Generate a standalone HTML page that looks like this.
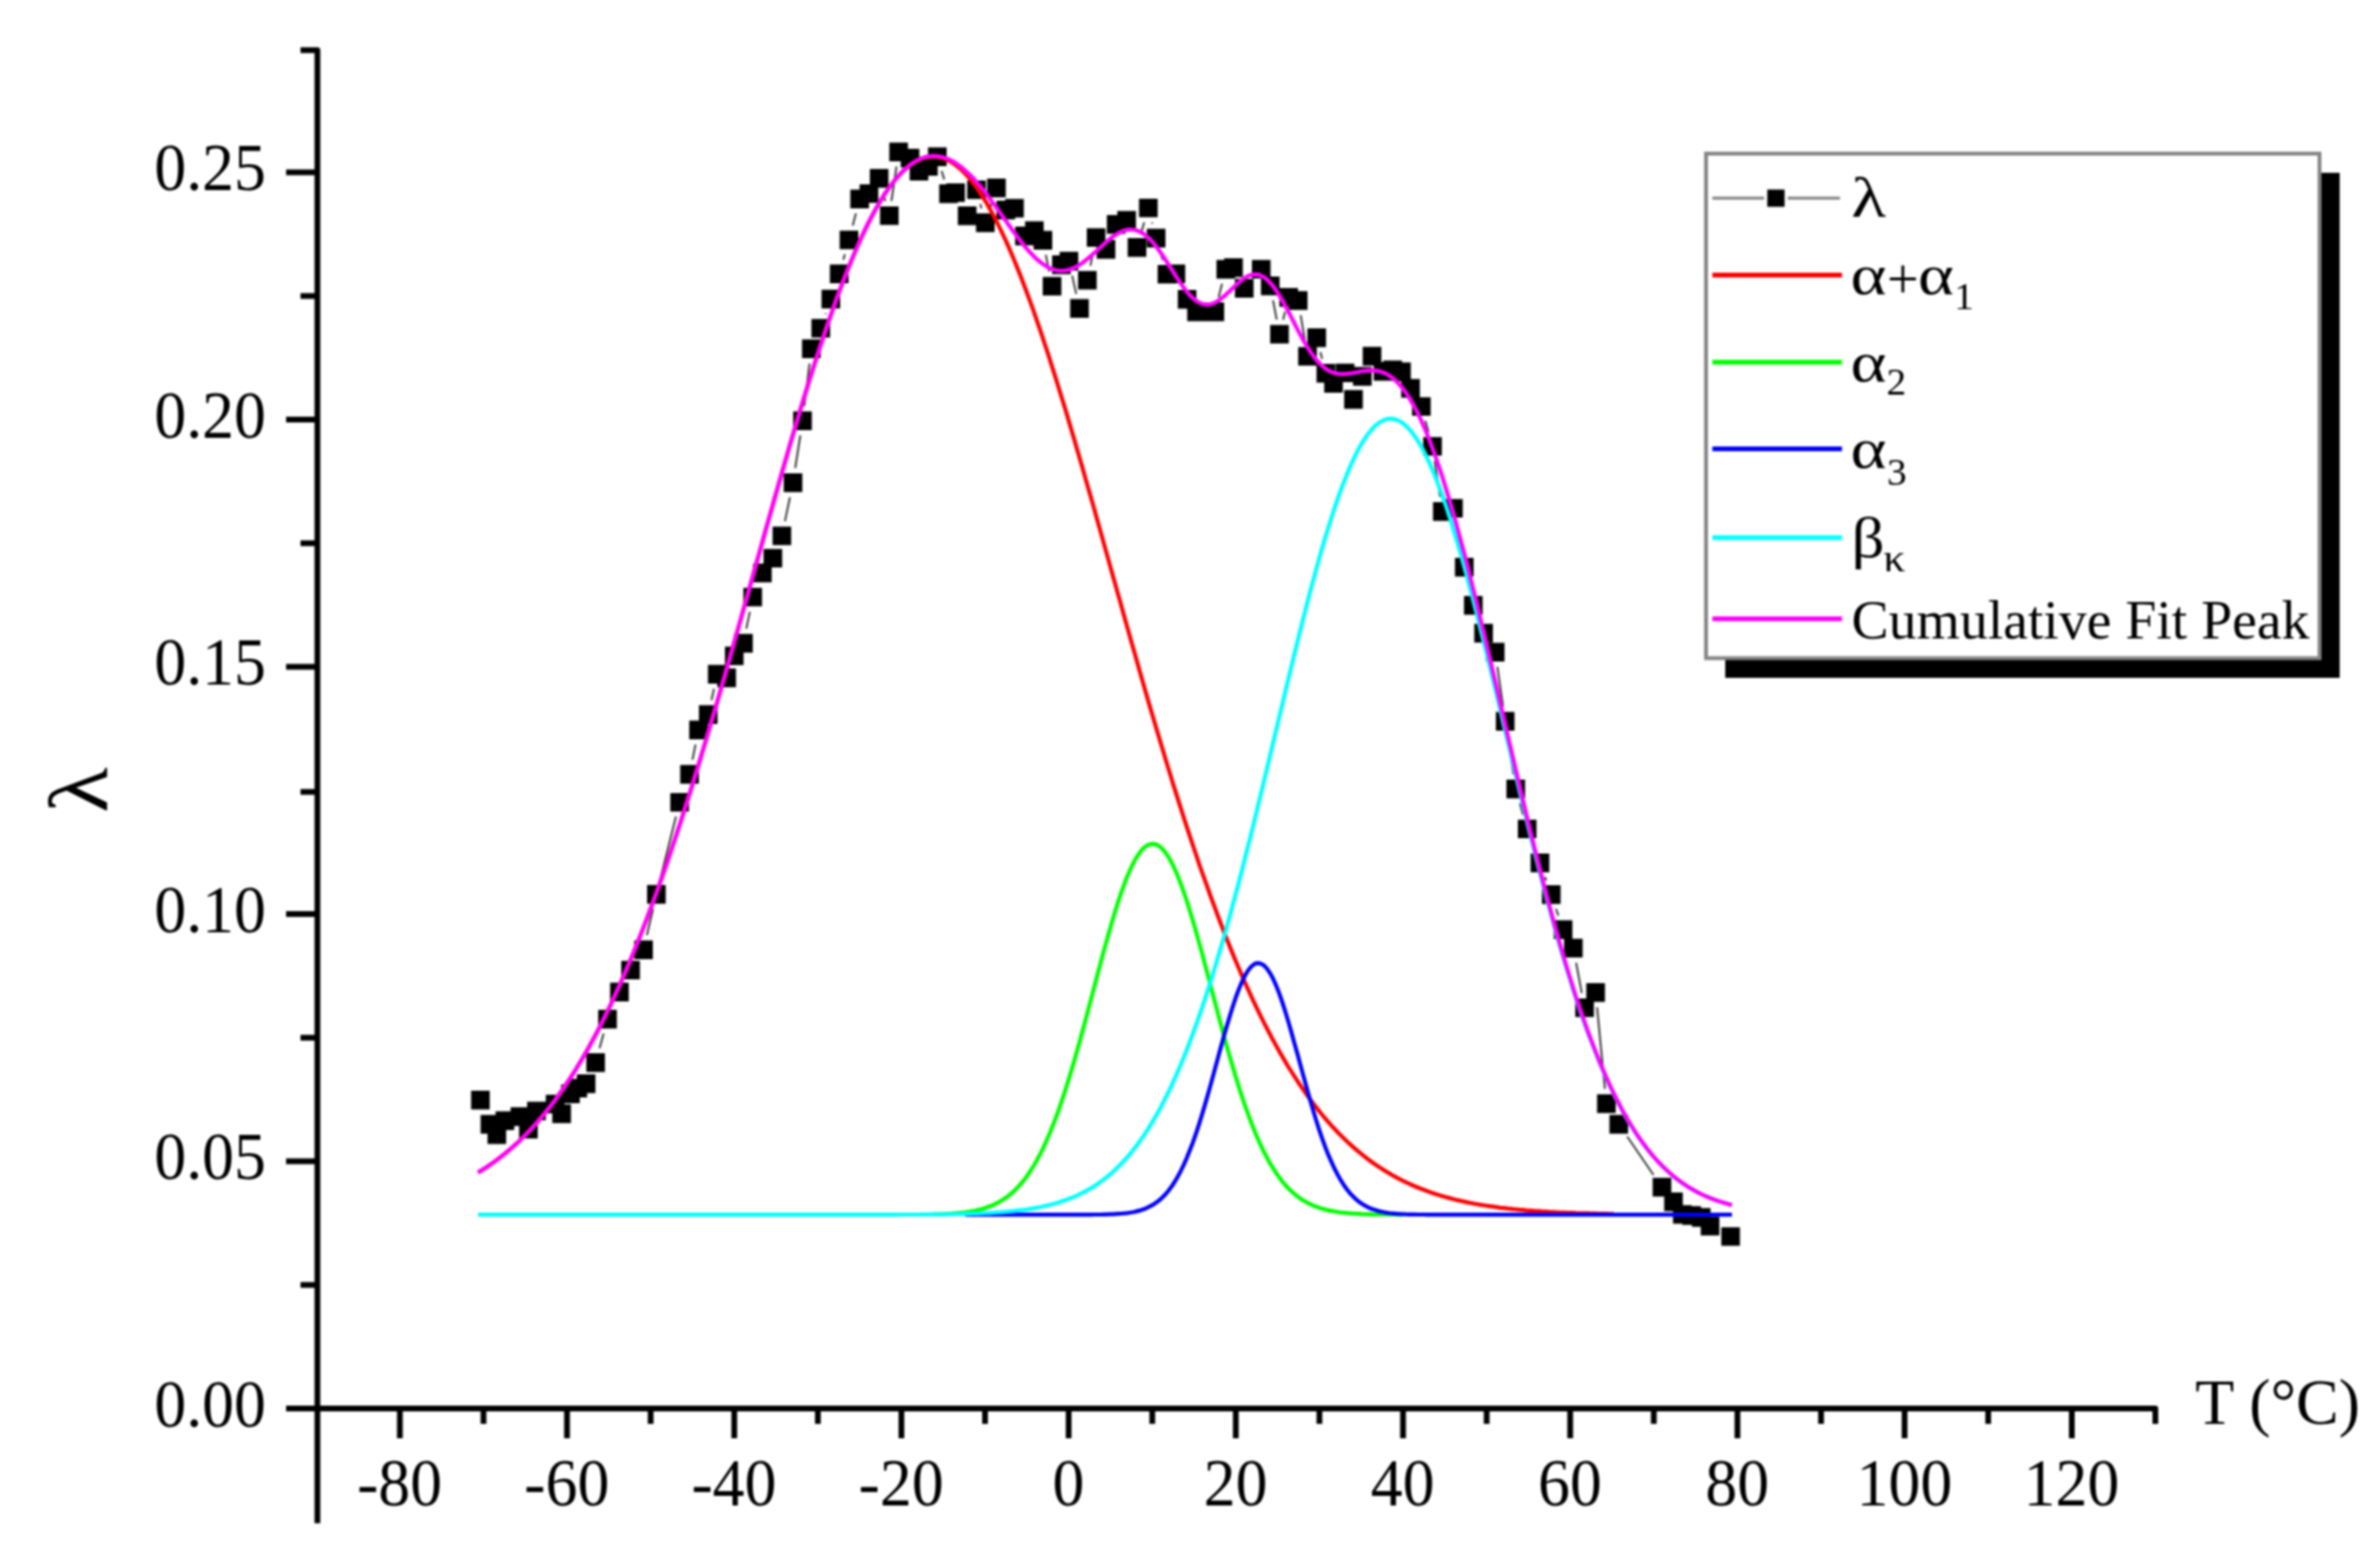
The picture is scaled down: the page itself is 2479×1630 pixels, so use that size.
<!DOCTYPE html>
<html><head><meta charset="utf-8"><title>Cumulative Fit Peak</title>
<style>html,body{margin:0;padding:0;background:#fff;overflow:hidden}svg{display:block;filter:blur(0.8px)}text{font-family:"Liberation Serif",serif;fill:#000}.tk{font-size:66.5px}.lg{font-size:58.5px}.sb{font-size:41px}</style></head><body>
<svg width="2479" height="1630" viewBox="0 0 2479 1630">
<rect width="2479" height="1630" fill="#fff"/>
<g stroke="#000" stroke-width="6" fill="none" stroke-linecap="butt" stroke-linejoin="round">
<path d="M313,52.2 H330.6 V1586.5"/>
<path d="M298,1467 H2245 V1483"/>
<path d="M313,1338.3 H331"/>
<path d="M298,1209.5 H331"/>
<path d="M313,1080.8 H331"/>
<path d="M298,952.0 H331"/>
<path d="M313,824.8 H331"/>
<path d="M298,694.6 H331"/>
<path d="M313,565.8 H331"/>
<path d="M298,437.1 H331"/>
<path d="M313,308.3 H331"/>
<path d="M298,179.6 H331"/>
<path d="M416.5,1467 V1498"/>
<path d="M503.6,1467 V1483"/>
<path d="M590.6,1467 V1498"/>
<path d="M677.7,1467 V1483"/>
<path d="M764.8,1467 V1498"/>
<path d="M851.9,1467 V1483"/>
<path d="M938.9,1467 V1498"/>
<path d="M1026.0,1467 V1483"/>
<path d="M1113.1,1467 V1498"/>
<path d="M1200.2,1467 V1483"/>
<path d="M1287.2,1467 V1498"/>
<path d="M1374.3,1467 V1483"/>
<path d="M1461.4,1467 V1498"/>
<path d="M1548.5,1467 V1483"/>
<path d="M1635.5,1467 V1498"/>
<path d="M1722.6,1467 V1483"/>
<path d="M1809.7,1467 V1498"/>
<path d="M1896.8,1467 V1483"/>
<path d="M1983.8,1467 V1498"/>
<path d="M2070.9,1467 V1483"/>
<path d="M2158.0,1467 V1498"/>
</g>
<g class="tk" text-anchor="end">
<text transform="translate(277,1485.5) scale(1,1.035)">0.00</text>
<text transform="translate(277,1228.0) scale(1,1.035)">0.05</text>
<text transform="translate(277,970.5) scale(1,1.035)">0.10</text>
<text transform="translate(277,713.1) scale(1,1.035)">0.15</text>
<text transform="translate(277,455.6) scale(1,1.035)">0.20</text>
<text transform="translate(277,198.1) scale(1,1.035)">0.25</text>
</g>
<g class="tk" text-anchor="middle">
<text transform="translate(416.2,1568.3) scale(1,1.035)">-80</text>
<text transform="translate(590.4,1568.3) scale(1,1.035)">-60</text>
<text transform="translate(764.5,1568.3) scale(1,1.035)">-40</text>
<text transform="translate(938.6,1568.3) scale(1,1.035)">-20</text>
<text transform="translate(1112.8,1568.3) scale(1,1.035)">0</text>
<text transform="translate(1287.0,1568.3) scale(1,1.035)">20</text>
<text transform="translate(1461.1,1568.3) scale(1,1.035)">40</text>
<text transform="translate(1635.2,1568.3) scale(1,1.035)">60</text>
<text transform="translate(1809.4,1568.3) scale(1,1.035)">80</text>
<text transform="translate(1983.5,1568.3) scale(1,1.035)">100</text>
<text transform="translate(2157.7,1568.3) scale(1,1.035)">120</text>
</g>
<text class="tk" x="2286.5" y="1483.3" style="font-size:66.7px">T (°C)</text>
<text transform="translate(110.5,846.5) rotate(-90) scale(1.12,1)" style="font-size:87px">λ</text>
<path fill="none" stroke="#3a3a3a" stroke-width="2" d="M624.5,1091.8L628.7,1076.4M673.8,974.1L680.2,946.6M687.5,916.5L704.1,850.6M721.3,791.3L724.5,775.4M741.1,729.2L743.7,717.4M777.4,654.8L781.0,637.1M817.6,542.9L822.8,518.0M828.3,487.5L833.6,453.5M837.8,422.8L843.2,378.7M860.0,327.2L860.3,326.2M878.4,270.4L880.0,264.8M888.2,234.9L891.5,222.3M919.8,200.8L922.2,209.6M928.5,209.3L933.8,173.5M980.8,178.0L983.5,186.9M1021.1,212.6L1022.3,217.0M1031.0,217.2L1033.2,210.6M1089.3,265.4L1092.8,282.9M1116.8,287.1L1121.0,306.1M1135.7,276.7L1138.6,262.6M1188.6,242.9L1191.8,231.5M1200.0,231.6L1200.3,233.0M1208.7,262.8L1211.0,270.8M1269.3,309.7L1272.9,295.5M1326.0,312.9L1329.8,332.9M1336.5,333.1L1338.5,324.8M1354.8,328.3L1359.3,355.8M1375.4,366.8L1377.1,373.8M1484.7,438.3L1487.9,450.0M1494.4,480.2L1500.0,517.4M1516.7,544.6L1522.4,575.5M1528.8,605.8L1531.0,615.4M1559.6,694.5L1565.6,736.0M1570.2,766.6L1576.4,806.5M1583.1,836.7L1586.4,848.5M1596.2,877.9L1598.5,884.3M1609.2,913.4L1610.6,917.2M1620.7,946.5L1623.2,953.6M1641.7,1002.7L1647.6,1034.4M1663.5,1049.1L1671.7,1134.1M1694.9,1183.8L1722.3,1223.7"/>
<path fill="#000" d="M490.7,1136.0h19.4v19.4h-19.4zM500.6,1161.3h19.4v19.4h-19.4zM507.8,1172.2h19.4v19.4h-19.4zM516.2,1157.5h19.4v19.4h-19.4zM531.8,1153.3h19.4v19.4h-19.4zM540.7,1166.3h19.4v19.4h-19.4zM549.1,1147.4h19.4v19.4h-19.4zM568.5,1140.2h19.4v19.4h-19.4zM575.3,1150.3h19.4v19.4h-19.4zM584.5,1129.6h19.4v19.4h-19.4zM592.1,1123.7h19.4v19.4h-19.4zM600.8,1119.1h19.4v19.4h-19.4zM610.7,1097.0h19.4v19.4h-19.4zM623.1,1051.8h19.4v19.4h-19.4zM635.5,1023.6h19.4v19.4h-19.4zM647.1,1000.7h19.4v19.4h-19.4zM660.6,979.5h19.4v19.4h-19.4zM674.0,921.8h19.4v19.4h-19.4zM698.2,825.9h19.4v19.4h-19.4zM708.5,796.8h19.4v19.4h-19.4zM717.9,750.5h19.4v19.4h-19.4zM728.0,734.6h19.4v19.4h-19.4zM737.4,692.6h19.4v19.4h-19.4zM747.2,696.3h19.4v19.4h-19.4zM755.1,673.4h19.4v19.4h-19.4zM764.7,660.3h19.4v19.4h-19.4zM774.3,612.2h19.4v19.4h-19.4zM784.4,587.0h19.4v19.4h-19.4zM795.3,571.7h19.4v19.4h-19.4zM804.7,548.4h19.4v19.4h-19.4zM816.3,493.1h19.4v19.4h-19.4zM826.2,428.5h19.4v19.4h-19.4zM835.4,353.6h19.4v19.4h-19.4zM845.2,332.2h19.4v19.4h-19.4zM855.7,301.8h19.4v19.4h-19.4zM864.4,275.6h19.4v19.4h-19.4zM874.6,240.2h19.4v19.4h-19.4zM885.7,197.6h19.4v19.4h-19.4zM895.4,191.9h19.4v19.4h-19.4zM906.0,176.1h19.4v19.4h-19.4zM916.6,214.9h19.4v19.4h-19.4zM926.3,148.5h19.4v19.4h-19.4zM938.2,155.0h19.4v19.4h-19.4zM947.5,168.6h19.4v19.4h-19.4zM957.3,163.5h19.4v19.4h-19.4zM966.6,153.5h19.4v19.4h-19.4zM978.3,192.0h19.4v19.4h-19.4zM985.6,190.9h19.4v19.4h-19.4zM997.7,215.1h19.4v19.4h-19.4zM1007.4,187.9h19.4v19.4h-19.4zM1016.6,222.3h19.4v19.4h-19.4zM1028.2,186.1h19.4v19.4h-19.4zM1037.9,209.1h19.4v19.4h-19.4zM1047.0,207.2h19.4v19.4h-19.4zM1057.4,236.1h19.4v19.4h-19.4zM1067.7,230.6h19.4v19.4h-19.4zM1076.6,240.5h19.4v19.4h-19.4zM1086.1,288.4h19.4v19.4h-19.4zM1095.9,266.1h19.4v19.4h-19.4zM1103.7,262.3h19.4v19.4h-19.4zM1114.7,311.5h19.4v19.4h-19.4zM1122.9,282.2h19.4v19.4h-19.4zM1132.0,237.7h19.4v19.4h-19.4zM1142.3,250.0h19.4v19.4h-19.4zM1152.9,224.1h19.4v19.4h-19.4zM1163.8,219.8h19.4v19.4h-19.4zM1174.6,248.1h19.4v19.4h-19.4zM1186.4,206.9h19.4v19.4h-19.4zM1194.5,238.3h19.4v19.4h-19.4zM1205.8,275.9h19.4v19.4h-19.4zM1215.1,275.5h19.4v19.4h-19.4zM1226.8,302.1h19.4v19.4h-19.4zM1236.6,315.0h19.4v19.4h-19.4zM1245.9,315.0h19.4v19.4h-19.4zM1255.7,315.0h19.4v19.4h-19.4zM1267.1,270.8h19.4v19.4h-19.4zM1275.1,269.0h19.4v19.4h-19.4zM1286.3,290.5h19.4v19.4h-19.4zM1304.0,270.7h19.4v19.4h-19.4zM1313.4,288.0h19.4v19.4h-19.4zM1323.0,338.4h19.4v19.4h-19.4zM1332.6,300.1h19.4v19.4h-19.4zM1342.5,303.3h19.4v19.4h-19.4zM1352.2,361.4h19.4v19.4h-19.4zM1361.8,342.1h19.4v19.4h-19.4zM1371.3,379.1h19.4v19.4h-19.4zM1379.3,389.6h19.4v19.4h-19.4zM1391.3,378.7h19.4v19.4h-19.4zM1400.1,406.3h19.4v19.4h-19.4zM1409.3,382.3h19.4v19.4h-19.4zM1419.4,361.3h19.4v19.4h-19.4zM1430.9,377.1h19.4v19.4h-19.4zM1440.9,375.4h19.4v19.4h-19.4zM1450.1,377.6h19.4v19.4h-19.4zM1459.5,394.8h19.4v19.4h-19.4zM1470.8,413.7h19.4v19.4h-19.4zM1482.4,455.2h19.4v19.4h-19.4zM1492.6,523.0h19.4v19.4h-19.4zM1504.2,519.7h19.4v19.4h-19.4zM1515.5,581.0h19.4v19.4h-19.4zM1524.9,620.8h19.4v19.4h-19.4zM1535.6,649.8h19.4v19.4h-19.4zM1547.7,669.5h19.4v19.4h-19.4zM1558.1,741.6h19.4v19.4h-19.4zM1569.1,812.1h19.4v19.4h-19.4zM1581.0,853.7h19.4v19.4h-19.4zM1594.3,889.1h19.4v19.4h-19.4zM1606.1,922.1h19.4v19.4h-19.4zM1618.4,958.6h19.4v19.4h-19.4zM1629.1,977.8h19.4v19.4h-19.4zM1640.8,1039.9h19.4v19.4h-19.4zM1652.3,1024.0h19.4v19.4h-19.4zM1663.5,1139.8h19.4v19.4h-19.4zM1676.4,1161.3h19.4v19.4h-19.4zM1721.4,1226.8h19.4v19.4h-19.4zM1733.4,1242.1h19.4v19.4h-19.4zM1742.6,1255.2h19.4v19.4h-19.4zM1752.3,1256.3h19.4v19.4h-19.4zM1762.3,1258.3h19.4v19.4h-19.4zM1771.5,1267.3h19.4v19.4h-19.4zM1792.9,1278.2h19.4v19.4h-19.4z"/>
<g fill="none" stroke-width="4.2" stroke-linejoin="round" stroke-linecap="butt">
<path stroke="#f00" d="M498.0,1221.1 L502.0,1218.7 L505.9,1216.2 L509.9,1213.5 L513.8,1210.8 L517.8,1207.9 L521.7,1204.9 L525.7,1201.7 L529.7,1198.4 L533.6,1195.0 L537.6,1191.4 L541.5,1187.7 L545.5,1183.9 L549.4,1179.9 L553.4,1175.7 L557.3,1171.4 L561.3,1166.9 L565.3,1162.2 L569.2,1157.4 L573.2,1152.4 L577.1,1147.2 L581.1,1141.8 L585.0,1136.2 L589.0,1130.5 L593.0,1124.5 L596.9,1118.4 L600.9,1112.0 L604.8,1105.5 L608.8,1098.7 L612.7,1091.7 L616.7,1084.6 L620.7,1077.2 L624.6,1069.6 L628.6,1061.8 L632.5,1053.7 L636.5,1045.5 L640.4,1037.0 L644.4,1028.3 L648.3,1019.4 L652.3,1010.3 L656.3,1000.9 L660.2,991.3 L664.2,981.5 L668.1,971.5 L672.1,961.3 L676.0,950.8 L680.0,940.2 L684.0,929.3 L687.9,918.2 L691.9,907.0 L695.8,895.5 L699.8,883.8 L703.7,871.9 L707.7,859.9 L711.7,847.6 L715.6,835.2 L719.6,822.6 L723.5,809.9 L727.5,797.0 L731.4,783.9 L735.4,770.7 L739.3,757.4 L743.3,743.9 L747.3,730.3 L751.2,716.6 L755.2,702.9 L759.1,689.0 L763.1,675.0 L767.0,661.0 L771.0,647.0 L775.0,632.9 L778.9,618.7 L782.9,604.6 L786.8,590.4 L790.8,576.2 L794.7,562.1 L798.7,548.0 L802.7,533.9 L806.6,519.9 L810.6,506.0 L814.5,492.1 L818.5,478.4 L822.4,464.7 L826.4,451.2 L830.3,437.9 L834.3,424.7 L838.3,411.6 L842.2,398.8 L846.2,386.2 L850.1,373.8 L854.1,361.6 L858.0,349.6 L862.0,337.9 L866.0,326.5 L869.9,315.4 L873.9,304.6 L877.8,294.1 L881.8,283.9 L885.7,274.0 L889.7,264.5 L893.7,255.4 L897.6,246.6 L901.6,238.2 L905.5,230.3 L909.5,222.7 L913.4,215.5 L917.4,208.8 L921.3,202.5 L925.3,196.6 L929.3,191.2 L933.2,186.3 L937.2,181.8 L941.1,177.8 L945.1,174.3 L949.0,171.2 L953.0,168.6 L957.0,166.6 L960.9,165.0 L964.9,163.9 L968.8,163.3 L972.8,163.1 L976.7,163.5 L980.7,164.4 L984.7,165.8 L988.6,167.6 L992.6,170.0 L996.5,172.8 L1000.5,176.1 L1004.4,179.9 L1008.4,184.2 L1012.3,188.9 L1016.3,194.1 L1020.3,199.8 L1024.2,205.9 L1028.2,212.4 L1032.1,219.4 L1036.1,226.8 L1040.0,234.6 L1044.0,242.8 L1048.0,251.4 L1051.9,260.3 L1055.9,269.7 L1059.8,279.4 L1063.8,289.4 L1067.7,299.8 L1071.7,310.4 L1075.7,321.4 L1079.6,332.7 L1083.6,344.3 L1087.5,356.1 L1091.5,368.2 L1095.4,380.5 L1099.4,393.0 L1103.3,405.8 L1107.3,418.7 L1111.3,431.9 L1115.2,445.1 L1119.2,458.6 L1123.1,472.2 L1127.1,485.9 L1131.0,499.7 L1135.0,513.6 L1139.0,527.5 L1142.9,541.6 L1146.9,555.7 L1150.8,569.8 L1154.8,584.0 L1158.7,598.1 L1162.7,612.3 L1166.7,626.4 L1170.6,640.6 L1174.6,654.7 L1178.5,668.7 L1182.5,682.7 L1186.4,696.6 L1190.4,710.4 L1194.3,724.1 L1198.3,737.8 L1202.3,751.3 L1206.2,764.7 L1210.2,777.9 L1214.1,791.0 L1218.1,804.0 L1222.0,816.9 L1226.0,829.5 L1230.0,842.0 L1233.9,854.3 L1237.9,866.5 L1241.8,878.4 L1245.8,890.2 L1249.7,901.8 L1253.7,913.1 L1257.7,924.3 L1261.6,935.3 L1265.6,946.0 L1269.5,956.6 L1273.5,966.9 L1277.4,977.0 L1281.4,986.9 L1285.3,996.6 L1289.3,1006.0 L1293.3,1015.3 L1297.2,1024.3 L1301.2,1033.1 L1305.1,1041.7 L1309.1,1050.0 L1313.0,1058.1 L1317.0,1066.1 L1321.0,1073.8 L1324.9,1081.2 L1328.9,1088.5 L1332.8,1095.6 L1336.8,1102.4 L1340.7,1109.1 L1344.7,1115.5 L1348.7,1121.7 L1352.6,1127.8 L1356.6,1133.6 L1360.5,1139.3 L1364.5,1144.7 L1368.4,1150.0 L1372.4,1155.1 L1376.3,1160.0 L1380.3,1164.8 L1384.3,1169.4 L1388.2,1173.8 L1392.2,1178.0 L1396.1,1182.1 L1400.1,1186.0 L1404.0,1189.8 L1408.0,1193.4 L1412.0,1196.9 L1415.9,1200.2 L1419.9,1203.4 L1423.8,1206.5 L1427.8,1209.5 L1431.7,1212.3 L1435.7,1215.0 L1439.7,1217.6 L1443.6,1220.0 L1447.6,1222.4 L1451.5,1224.7 L1455.5,1226.8 L1459.4,1228.9 L1463.4,1230.8 L1467.3,1232.7 L1471.3,1234.5 L1475.3,1236.2 L1479.2,1237.8 L1483.2,1239.3 L1487.1,1240.8 L1491.1,1242.2 L1495.0,1243.5 L1499.0,1244.8 L1503.0,1245.9 L1506.9,1247.1 L1510.9,1248.1 L1514.8,1249.2 L1518.8,1250.1 L1522.7,1251.0 L1526.7,1251.9 L1530.7,1252.7 L1534.6,1253.5 L1538.6,1254.2 L1542.5,1254.9 L1546.5,1255.5 L1550.4,1256.1 L1554.4,1256.7 L1558.3,1257.2 L1562.3,1257.8 L1566.3,1258.2 L1570.2,1258.7 L1574.2,1259.1 L1578.1,1259.5 L1582.1,1259.9 L1586.0,1260.2 L1590.0,1260.6 L1594.0,1260.9 L1597.9,1261.2 L1601.9,1261.4 L1605.8,1261.7 L1609.8,1261.9 L1613.7,1262.2 L1617.7,1262.4 L1621.7,1262.6 L1625.6,1262.8 L1629.6,1262.9 L1633.5,1263.1 L1637.5,1263.2 L1641.4,1263.4 L1645.4,1263.5 L1649.3,1263.6 L1653.3,1263.7 L1657.3,1263.8 L1661.2,1263.9 L1665.2,1264.0 L1669.1,1264.1 L1673.1,1264.2 L1677.0,1264.3 L1681.0,1264.3"/>
<path stroke="#0f0" d="M971.0,1264.8 L973.5,1264.7 L975.9,1264.6 L978.4,1264.6 L980.9,1264.5 L983.3,1264.4 L985.8,1264.3 L988.3,1264.1 L990.7,1264.0 L993.2,1263.8 L995.7,1263.6 L998.1,1263.4 L1000.6,1263.2 L1003.1,1262.9 L1005.5,1262.6 L1008.0,1262.2 L1010.5,1261.9 L1012.9,1261.4 L1015.4,1261.0 L1017.9,1260.4 L1020.3,1259.8 L1022.8,1259.2 L1025.3,1258.4 L1027.7,1257.6 L1030.2,1256.8 L1032.7,1255.8 L1035.2,1254.7 L1037.6,1253.5 L1040.1,1252.2 L1042.6,1250.8 L1045.0,1249.3 L1047.5,1247.6 L1050.0,1245.8 L1052.4,1243.8 L1054.9,1241.7 L1057.4,1239.4 L1059.8,1236.9 L1062.3,1234.2 L1064.8,1231.3 L1067.2,1228.2 L1069.7,1224.9 L1072.2,1221.3 L1074.6,1217.5 L1077.1,1213.5 L1079.6,1209.2 L1082.0,1204.7 L1084.5,1199.9 L1087.0,1194.8 L1089.4,1189.5 L1091.9,1183.9 L1094.4,1178.0 L1096.8,1171.8 L1099.3,1165.4 L1101.8,1158.7 L1104.2,1151.7 L1106.7,1144.4 L1109.2,1136.9 L1111.6,1129.2 L1114.1,1121.2 L1116.6,1112.9 L1119.0,1104.5 L1121.5,1095.9 L1124.0,1087.1 L1126.4,1078.1 L1128.9,1069.0 L1131.4,1059.8 L1133.8,1050.5 L1136.3,1041.2 L1138.8,1031.8 L1141.2,1022.4 L1143.7,1013.1 L1146.2,1003.8 L1148.6,994.5 L1151.1,985.5 L1153.6,976.5 L1156.1,967.8 L1158.5,959.3 L1161.0,951.1 L1163.5,943.1 L1165.9,935.5 L1168.4,928.3 L1170.9,921.4 L1173.3,915.0 L1175.8,909.0 L1178.3,903.5 L1180.7,898.5 L1183.2,894.0 L1185.7,890.1 L1188.1,886.7 L1190.6,883.9 L1193.1,881.8 L1195.5,880.2 L1198.0,879.3 L1200.5,878.9 L1202.9,879.2 L1205.4,880.1 L1207.9,881.6 L1210.3,883.8 L1212.8,886.5 L1215.3,889.8 L1217.7,893.7 L1220.2,898.1 L1222.7,903.0 L1225.1,908.5 L1227.6,914.5 L1230.1,920.9 L1232.5,927.7 L1235.0,934.9 L1237.5,942.5 L1239.9,950.4 L1242.4,958.6 L1244.9,967.1 L1247.3,975.8 L1249.8,984.7 L1252.3,993.8 L1254.7,1003.0 L1257.2,1012.3 L1259.7,1021.7 L1262.1,1031.0 L1264.6,1040.4 L1267.1,1049.8 L1269.5,1059.1 L1272.0,1068.3 L1274.5,1077.4 L1276.9,1086.4 L1279.4,1095.2 L1281.9,1103.8 L1284.4,1112.3 L1286.8,1120.5 L1289.3,1128.5 L1291.8,1136.3 L1294.2,1143.8 L1296.7,1151.1 L1299.2,1158.1 L1301.6,1164.8 L1304.1,1171.3 L1306.6,1177.5 L1309.0,1183.4 L1311.5,1189.1 L1314.0,1194.4 L1316.4,1199.5 L1318.9,1204.3 L1321.4,1208.9 L1323.8,1213.2 L1326.3,1217.2 L1328.8,1221.0 L1331.2,1224.6 L1333.7,1227.9 L1336.2,1231.1 L1338.6,1234.0 L1341.1,1236.7 L1343.6,1239.2 L1346.0,1241.5 L1348.5,1243.7 L1351.0,1245.6 L1353.4,1247.5 L1355.9,1249.2 L1358.4,1250.7 L1360.8,1252.1 L1363.3,1253.4 L1365.8,1254.6 L1368.2,1255.7 L1370.7,1256.7 L1373.2,1257.6 L1375.6,1258.4 L1378.1,1259.1 L1380.6,1259.8 L1383.0,1260.4 L1385.5,1260.9 L1388.0,1261.4 L1390.4,1261.8 L1392.9,1262.2 L1395.4,1262.6 L1397.8,1262.9 L1400.3,1263.1 L1402.8,1263.4 L1405.3,1263.6 L1407.7,1263.8 L1410.2,1264.0 L1412.7,1264.1 L1415.1,1264.2 L1417.6,1264.4 L1420.1,1264.5 L1422.5,1264.6 L1425.0,1264.6 L1427.5,1264.7 L1429.9,1264.8 L1432.4,1264.8 L1434.9,1264.9 L1437.3,1264.9 L1439.8,1264.9 L1442.3,1265.0 L1444.7,1265.0 L1447.2,1265.0 L1449.7,1265.0 L1452.1,1265.0 L1454.6,1265.1 L1457.1,1265.1 L1459.5,1265.1 L1462.0,1265.1"/>
<path stroke="#00f" d="M1005.0,1265.1 L1008.2,1265.1 L1011.4,1265.1 L1014.6,1265.1 L1017.8,1265.1 L1021.0,1265.1 L1024.3,1265.1 L1027.5,1265.1 L1030.7,1265.1 L1033.9,1265.1 L1037.1,1265.1 L1040.3,1265.1 L1043.5,1265.1 L1046.7,1265.1 L1049.9,1265.1 L1053.1,1265.1 L1056.3,1265.1 L1059.6,1265.1 L1062.8,1265.1 L1066.0,1265.1 L1069.2,1265.1 L1072.4,1265.1 L1075.6,1265.1 L1078.8,1265.1 L1082.0,1265.1 L1085.2,1265.1 L1088.4,1265.1 L1091.6,1265.1 L1094.8,1265.1 L1098.1,1265.1 L1101.3,1265.1 L1104.5,1265.1 L1107.7,1265.1 L1110.9,1265.1 L1114.1,1265.1 L1117.3,1265.1 L1120.5,1265.1 L1123.7,1265.1 L1126.9,1265.1 L1130.1,1265.1 L1133.4,1265.1 L1136.6,1265.1 L1139.8,1265.0 L1143.0,1265.0 L1146.2,1265.0 L1149.4,1264.9 L1152.6,1264.8 L1155.8,1264.7 L1159.0,1264.6 L1162.2,1264.4 L1165.4,1264.2 L1168.7,1264.0 L1171.9,1263.7 L1175.1,1263.3 L1178.3,1262.8 L1181.5,1262.2 L1184.7,1261.4 L1187.9,1260.6 L1191.1,1259.5 L1194.3,1258.2 L1197.5,1256.7 L1200.7,1254.9 L1203.9,1252.8 L1207.2,1250.4 L1210.4,1247.5 L1213.6,1244.3 L1216.8,1240.5 L1220.0,1236.3 L1223.2,1231.5 L1226.4,1226.1 L1229.6,1220.2 L1232.8,1213.6 L1236.0,1206.3 L1239.2,1198.4 L1242.5,1189.9 L1245.7,1180.7 L1248.9,1171.0 L1252.1,1160.7 L1255.3,1149.9 L1258.5,1138.7 L1261.7,1127.2 L1264.9,1115.5 L1268.1,1103.7 L1271.3,1091.9 L1274.5,1080.2 L1277.8,1068.9 L1281.0,1058.1 L1284.2,1047.8 L1287.4,1038.3 L1290.6,1029.7 L1293.8,1022.1 L1297.0,1015.7 L1300.2,1010.5 L1303.4,1006.6 L1306.6,1004.1 L1309.8,1003.1 L1313.0,1003.5 L1316.3,1005.3 L1319.5,1008.6 L1322.7,1013.2 L1325.9,1019.1 L1329.1,1026.2 L1332.3,1034.3 L1335.5,1043.5 L1338.7,1053.4 L1341.9,1064.0 L1345.1,1075.1 L1348.3,1086.7 L1351.6,1098.4 L1354.8,1110.2 L1358.0,1122.0 L1361.2,1133.6 L1364.4,1145.0 L1367.6,1155.9 L1370.8,1166.5 L1374.0,1176.5 L1377.2,1185.9 L1380.4,1194.7 L1383.6,1202.9 L1386.9,1210.4 L1390.1,1217.3 L1393.3,1223.5 L1396.5,1229.2 L1399.7,1234.2 L1402.9,1238.7 L1406.1,1242.7 L1409.3,1246.1 L1412.5,1249.2 L1415.7,1251.8 L1418.9,1254.0 L1422.1,1255.9 L1425.4,1257.6 L1428.6,1259.0 L1431.8,1260.1 L1435.0,1261.1 L1438.2,1261.9 L1441.4,1262.5 L1444.6,1263.1 L1447.8,1263.5 L1451.0,1263.8 L1454.2,1264.1 L1457.4,1264.3 L1460.7,1264.5 L1463.9,1264.7 L1467.1,1264.8 L1470.3,1264.9 L1473.5,1264.9 L1476.7,1265.0 L1479.9,1265.0 L1483.1,1265.0 L1486.3,1265.1 L1489.5,1265.1 L1492.7,1265.1 L1496.0,1265.1 L1499.2,1265.1 L1502.4,1265.1 L1505.6,1265.1 L1508.8,1265.1 L1512.0,1265.1 L1515.2,1265.1 L1518.4,1265.1 L1521.6,1265.1 L1524.8,1265.1 L1528.0,1265.1 L1531.2,1265.1 L1534.5,1265.1 L1537.7,1265.1 L1540.9,1265.1 L1544.1,1265.1 L1547.3,1265.1 L1550.5,1265.1 L1553.7,1265.1 L1556.9,1265.1 L1560.1,1265.1 L1563.3,1265.1 L1566.5,1265.1 L1569.8,1265.1 L1573.0,1265.1 L1576.2,1265.1 L1579.4,1265.1 L1582.6,1265.1 L1585.8,1265.1 L1589.0,1265.1 L1592.2,1265.1 L1595.4,1265.1 L1598.6,1265.1 L1601.8,1265.1 L1605.1,1265.1 L1608.3,1265.1 L1611.5,1265.1 L1614.7,1265.1 L1617.9,1265.1 L1621.1,1265.1 L1624.3,1265.1 L1627.5,1265.1 L1630.7,1265.1 L1633.9,1265.1 L1637.1,1265.1 L1640.3,1265.1 L1643.6,1265.1 L1646.8,1265.1 L1650.0,1265.1 L1653.2,1265.1 L1656.4,1265.1 L1659.6,1265.1 L1662.8,1265.1 L1666.0,1265.1 L1669.2,1265.1 L1672.4,1265.1 L1675.6,1265.1 L1678.9,1265.1 L1682.1,1265.1 L1685.3,1265.1 L1688.5,1265.1 L1691.7,1265.1 L1694.9,1265.1 L1698.1,1265.1 L1701.3,1265.1 L1704.5,1265.1 L1707.7,1265.1 L1710.9,1265.1 L1714.2,1265.1 L1717.4,1265.1 L1720.6,1265.1 L1723.8,1265.1 L1727.0,1265.1 L1730.2,1265.1 L1733.4,1265.1 L1736.6,1265.1 L1739.8,1265.1 L1743.0,1265.1 L1746.2,1265.1 L1749.4,1265.1 L1752.7,1265.1 L1755.9,1265.1 L1759.1,1265.1 L1762.3,1265.1 L1765.5,1265.1 L1768.7,1265.1 L1771.9,1265.1 L1775.1,1265.1 L1778.3,1265.1 L1781.5,1265.1 L1784.7,1265.1 L1788.0,1265.1 L1791.2,1265.1 L1794.4,1265.1 L1797.6,1265.1 L1800.8,1265.1 L1804.0,1265.1"/>
<path stroke="#0ff" d="M498.0,1265.1 L502.4,1265.1 L506.7,1265.1 L511.1,1265.1 L515.5,1265.1 L519.8,1265.1 L524.2,1265.1 L528.6,1265.1 L532.9,1265.1 L537.3,1265.1 L541.7,1265.1 L546.0,1265.1 L550.4,1265.1 L554.8,1265.1 L559.2,1265.1 L563.5,1265.1 L567.9,1265.1 L572.3,1265.1 L576.6,1265.1 L581.0,1265.1 L585.4,1265.1 L589.7,1265.1 L594.1,1265.1 L598.5,1265.1 L602.8,1265.1 L607.2,1265.1 L611.6,1265.1 L615.9,1265.1 L620.3,1265.1 L624.7,1265.1 L629.0,1265.1 L633.4,1265.1 L637.8,1265.1 L642.1,1265.1 L646.5,1265.1 L650.9,1265.1 L655.2,1265.1 L659.6,1265.1 L664.0,1265.1 L668.3,1265.1 L672.7,1265.1 L677.1,1265.1 L681.5,1265.1 L685.8,1265.1 L690.2,1265.1 L694.6,1265.1 L698.9,1265.1 L703.3,1265.1 L707.7,1265.1 L712.0,1265.1 L716.4,1265.1 L720.8,1265.1 L725.1,1265.1 L729.5,1265.1 L733.9,1265.1 L738.2,1265.1 L742.6,1265.1 L747.0,1265.1 L751.3,1265.1 L755.7,1265.1 L760.1,1265.1 L764.4,1265.1 L768.8,1265.1 L773.2,1265.1 L777.5,1265.1 L781.9,1265.1 L786.3,1265.1 L790.6,1265.1 L795.0,1265.1 L799.4,1265.1 L803.8,1265.1 L808.1,1265.1 L812.5,1265.1 L816.9,1265.1 L821.2,1265.1 L825.6,1265.1 L830.0,1265.1 L834.3,1265.1 L838.7,1265.1 L843.1,1265.1 L847.4,1265.1 L851.8,1265.1 L856.2,1265.1 L860.5,1265.1 L864.9,1265.1 L869.3,1265.1 L873.6,1265.1 L878.0,1265.1 L882.4,1265.1 L886.7,1265.1 L891.1,1265.1 L895.5,1265.1 L899.8,1265.1 L904.2,1265.1 L908.6,1265.1 L912.9,1265.1 L917.3,1265.1 L921.7,1265.1 L926.1,1265.1 L930.4,1265.1 L934.8,1265.1 L939.2,1265.0 L943.5,1265.0 L947.9,1265.0 L952.3,1265.0 L956.6,1265.0 L961.0,1264.9 L965.4,1264.9 L969.7,1264.9 L974.1,1264.8 L978.5,1264.8 L982.8,1264.7 L987.2,1264.6 L991.6,1264.6 L995.9,1264.5 L1000.3,1264.4 L1004.7,1264.3 L1009.0,1264.2 L1013.4,1264.0 L1017.8,1263.9 L1022.1,1263.7 L1026.5,1263.5 L1030.9,1263.3 L1035.3,1263.0 L1039.6,1262.7 L1044.0,1262.4 L1048.4,1262.0 L1052.7,1261.6 L1057.1,1261.2 L1061.5,1260.7 L1065.8,1260.2 L1070.2,1259.5 L1074.6,1258.9 L1078.9,1258.1 L1083.3,1257.3 L1087.7,1256.3 L1092.0,1255.3 L1096.4,1254.2 L1100.8,1253.0 L1105.1,1251.6 L1109.5,1250.1 L1113.9,1248.5 L1118.2,1246.8 L1122.6,1244.8 L1127.0,1242.7 L1131.3,1240.4 L1135.7,1237.9 L1140.1,1235.2 L1144.4,1232.3 L1148.8,1229.1 L1153.2,1225.7 L1157.6,1222.0 L1161.9,1218.0 L1166.3,1213.8 L1170.7,1209.2 L1175.0,1204.3 L1179.4,1199.0 L1183.8,1193.4 L1188.1,1187.4 L1192.5,1181.1 L1196.9,1174.3 L1201.2,1167.1 L1205.6,1159.5 L1210.0,1151.4 L1214.3,1142.9 L1218.7,1134.0 L1223.1,1124.5 L1227.4,1114.6 L1231.8,1104.2 L1236.2,1093.4 L1240.5,1082.0 L1244.9,1070.1 L1249.3,1057.8 L1253.6,1044.9 L1258.0,1031.6 L1262.4,1017.8 L1266.7,1003.5 L1271.1,988.7 L1275.5,973.6 L1279.9,958.0 L1284.2,942.0 L1288.6,925.6 L1293.0,908.9 L1297.3,891.8 L1301.7,874.4 L1306.1,856.8 L1310.4,839.0 L1314.8,820.9 L1319.2,802.7 L1323.5,784.4 L1327.9,766.1 L1332.3,747.7 L1336.6,729.4 L1341.0,711.2 L1345.4,693.1 L1349.7,675.2 L1354.1,657.6 L1358.5,640.3 L1362.8,623.3 L1367.2,606.8 L1371.6,590.7 L1375.9,575.1 L1380.3,560.2 L1384.7,545.8 L1389.1,532.2 L1393.4,519.3 L1397.8,507.2 L1402.2,495.9 L1406.5,485.4 L1410.9,475.9 L1415.3,467.3 L1419.6,459.8 L1424.0,453.2 L1428.4,447.7 L1432.7,443.2 L1437.1,439.8 L1441.5,437.5 L1445.8,436.2 L1450.2,436.1 L1454.6,437.1 L1458.9,439.2 L1463.3,442.4 L1467.7,446.7 L1472.0,452.0 L1476.4,458.4 L1480.8,465.8 L1485.1,474.1 L1489.5,483.5 L1493.9,493.7 L1498.2,504.9 L1502.6,516.8 L1507.0,529.6 L1511.4,543.1 L1515.7,557.3 L1520.1,572.1 L1524.5,587.6 L1528.8,603.5 L1533.2,620.0 L1537.6,636.9 L1541.9,654.2 L1546.3,671.7 L1550.7,689.6 L1555.0,707.6 L1559.4,725.8 L1563.8,744.1 L1568.1,762.5 L1572.5,780.8 L1576.9,799.1 L1581.2,817.3 L1585.6,835.4 L1590.0,853.3 L1594.3,871.0 L1598.7,888.4 L1603.1,905.5 L1607.4,922.3 L1611.8,938.8 L1616.2,954.8 L1620.5,970.5 L1624.9,985.8 L1629.3,1000.6 L1633.7,1015.0 L1638.0,1028.9 L1642.4,1042.3 L1646.8,1055.3 L1651.1,1067.7 L1655.5,1079.7 L1659.9,1091.1 L1664.2,1102.1 L1668.6,1112.6 L1673.0,1122.6 L1677.3,1132.1 L1681.7,1141.2 L1686.1,1149.8 L1690.4,1157.9 L1694.8,1165.6 L1699.2,1172.9 L1703.5,1179.8 L1707.9,1186.2 L1712.3,1192.3 L1716.6,1197.9 L1721.0,1203.3 L1725.4,1208.2 L1729.7,1212.9 L1734.1,1217.2 L1738.5,1221.2 L1742.8,1225.0 L1747.2,1228.5 L1751.6,1231.7 L1756.0,1234.7 L1760.3,1237.4 L1764.7,1239.9 L1769.1,1242.3 L1773.4,1244.4 L1777.8,1246.4 L1782.2,1248.2 L1786.5,1249.8 L1790.9,1251.3 L1795.3,1252.7 L1799.6,1254.0 L1804.0,1255.1"/>
<path stroke="#f0f" d="M498.0,1221.1 L501.3,1219.1 L504.5,1217.1 L507.8,1214.9 L511.1,1212.7 L514.4,1210.4 L517.6,1208.0 L520.9,1205.5 L524.2,1202.9 L527.5,1200.3 L530.7,1197.5 L534.0,1194.7 L537.3,1191.7 L540.6,1188.7 L543.8,1185.5 L547.1,1182.3 L550.4,1178.9 L553.6,1175.4 L556.9,1171.9 L560.2,1168.2 L563.5,1164.4 L566.7,1160.4 L570.0,1156.4 L573.3,1152.2 L576.6,1147.9 L579.8,1143.5 L583.1,1139.0 L586.4,1134.3 L589.6,1129.5 L592.9,1124.6 L596.2,1119.5 L599.5,1114.3 L602.7,1108.9 L606.0,1103.5 L609.3,1097.8 L612.6,1092.1 L615.8,1086.2 L619.1,1080.1 L622.4,1073.9 L625.7,1067.5 L628.9,1061.0 L632.2,1054.4 L635.5,1047.6 L638.7,1040.6 L642.0,1033.6 L645.3,1026.3 L648.6,1018.9 L651.8,1011.4 L655.1,1003.6 L658.4,995.8 L661.7,987.8 L664.9,979.6 L668.2,971.3 L671.5,962.9 L674.8,954.3 L678.0,945.5 L681.3,936.6 L684.6,927.6 L687.8,918.4 L691.1,909.1 L694.4,899.7 L697.7,890.1 L700.9,880.4 L704.2,870.5 L707.5,860.5 L710.8,850.4 L714.0,840.2 L717.3,829.8 L720.6,819.4 L723.8,808.8 L727.1,798.1 L730.4,787.3 L733.7,776.5 L736.9,765.5 L740.2,754.4 L743.5,743.3 L746.8,732.0 L750.0,720.7 L753.3,709.4 L756.6,697.9 L759.9,686.4 L763.1,674.9 L766.4,663.3 L769.7,651.7 L772.9,640.0 L776.2,628.3 L779.5,616.6 L782.8,604.9 L786.0,593.2 L789.3,581.5 L792.6,569.8 L795.9,558.1 L799.1,546.4 L802.4,534.8 L805.7,523.2 L809.0,511.6 L812.2,500.1 L815.5,488.7 L818.8,477.3 L822.0,466.1 L825.3,454.9 L828.6,443.8 L831.9,432.8 L835.1,421.9 L838.4,411.2 L841.7,400.5 L845.0,390.0 L848.2,379.7 L851.5,369.5 L854.8,359.5 L858.1,349.6 L861.3,339.9 L864.6,330.4 L867.9,321.1 L871.1,312.0 L874.4,303.1 L877.7,294.4 L881.0,285.9 L884.2,277.7 L887.5,269.7 L890.8,262.0 L894.1,254.5 L897.3,247.2 L900.6,240.2 L903.9,233.5 L907.1,227.1 L910.4,220.9 L913.7,215.0 L917.0,209.4 L920.2,204.2 L923.5,199.2 L926.8,194.5 L930.1,190.1 L933.3,186.1 L936.6,182.3 L939.9,178.9 L943.2,175.8 L946.4,173.0 L949.7,170.5 L953.0,168.4 L956.2,166.6 L959.5,165.1 L962.8,163.9 L966.1,163.1 L969.3,162.6 L972.6,162.4 L975.9,162.6 L979.2,163.0 L982.4,163.8 L985.7,164.9 L989.0,166.3 L992.3,167.9 L995.5,169.9 L998.8,172.2 L1002.1,174.7 L1005.3,177.5 L1008.6,180.5 L1011.9,183.8 L1015.2,187.3 L1018.4,191.0 L1021.7,194.9 L1025.0,198.9 L1028.3,203.2 L1031.5,207.5 L1034.8,212.0 L1038.1,216.5 L1041.3,221.1 L1044.6,225.7 L1047.9,230.4 L1051.2,235.0 L1054.4,239.5 L1057.7,244.0 L1061.0,248.4 L1064.3,252.6 L1067.5,256.6 L1070.8,260.5 L1074.1,264.1 L1077.4,267.4 L1080.6,270.5 L1083.9,273.2 L1087.2,275.6 L1090.4,277.7 L1093.7,279.3 L1097.0,280.6 L1100.3,281.5 L1103.5,282.0 L1106.8,282.0 L1110.1,281.7 L1113.4,280.9 L1116.6,279.8 L1119.9,278.4 L1123.2,276.5 L1126.5,274.4 L1129.7,272.0 L1133.0,269.4 L1136.3,266.6 L1139.5,263.7 L1142.8,260.7 L1146.1,257.7 L1149.4,254.7 L1152.6,251.8 L1155.9,249.0 L1159.2,246.5 L1162.5,244.3 L1165.7,242.3 L1169.0,240.8 L1172.3,239.7 L1175.5,239.1 L1178.8,239.0 L1182.1,239.5 L1185.4,240.5 L1188.6,242.0 L1191.9,244.1 L1195.2,246.8 L1198.5,249.9 L1201.7,253.6 L1205.0,257.7 L1208.3,262.2 L1211.6,266.9 L1214.8,271.9 L1218.1,277.0 L1221.4,282.2 L1224.6,287.4 L1227.9,292.4 L1231.2,297.1 L1234.5,301.5 L1237.7,305.5 L1241.0,309.1 L1244.3,312.0 L1247.6,314.3 L1250.8,316.0 L1254.1,317.0 L1257.4,317.3 L1260.7,316.9 L1263.9,315.9 L1267.2,314.3 L1270.5,312.2 L1273.7,309.7 L1277.0,306.8 L1280.3,303.7 L1283.6,300.5 L1286.8,297.4 L1290.1,294.4 L1293.4,291.7 L1296.7,289.3 L1299.9,287.5 L1303.2,286.3 L1306.5,285.7 L1309.7,285.9 L1313.0,286.8 L1316.3,288.5 L1319.6,291.0 L1322.8,294.2 L1326.1,298.2 L1329.4,302.7 L1332.7,307.9 L1335.9,313.4 L1339.2,319.4 L1342.5,325.6 L1345.8,331.9 L1349.0,338.3 L1352.3,344.6 L1355.6,350.7 L1358.8,356.5 L1362.1,362.0 L1365.4,367.0 L1368.7,371.6 L1371.9,375.7 L1375.2,379.2 L1378.5,382.2 L1381.8,384.6 L1385.0,386.6 L1388.3,388.0 L1391.6,388.9 L1394.9,389.5 L1398.1,389.7 L1401.4,389.6 L1404.7,389.2 L1407.9,388.7 L1411.2,388.1 L1414.5,387.5 L1417.8,386.8 L1421.0,386.3 L1424.3,385.9 L1427.6,385.7 L1430.9,385.8 L1434.1,386.2 L1437.4,386.9 L1440.7,387.9 L1443.9,389.4 L1447.2,391.3 L1450.5,393.7 L1453.8,396.5 L1457.0,399.8 L1460.3,403.6 L1463.6,407.9 L1466.9,412.8 L1470.1,418.1 L1473.4,423.9 L1476.7,430.3 L1480.0,437.1 L1483.2,444.5 L1486.5,452.3 L1489.8,460.6 L1493.0,469.4 L1496.3,478.6 L1499.6,488.2 L1502.9,498.3 L1506.1,508.8 L1509.4,519.6 L1512.7,530.8 L1516.0,542.4 L1519.2,554.3 L1522.5,566.4 L1525.8,578.9 L1529.1,591.6 L1532.3,604.6 L1535.6,617.8 L1538.9,631.2 L1542.1,644.7 L1545.4,658.4 L1548.7,672.2 L1552.0,686.2 L1555.2,700.2 L1558.5,714.3 L1561.8,728.4 L1565.1,742.5 L1568.3,756.6 L1571.6,770.8 L1574.9,784.8 L1578.2,798.9 L1581.4,812.8 L1584.7,826.7 L1588.0,840.4 L1591.2,854.0 L1594.5,867.5 L1597.8,880.8 L1601.1,893.9 L1604.3,906.9 L1607.6,919.6 L1610.9,932.2 L1614.2,944.5 L1617.4,956.6 L1620.7,968.5 L1624.0,980.1 L1627.2,991.4 L1630.5,1002.6 L1633.8,1013.4 L1637.1,1024.0 L1640.3,1034.3 L1643.6,1044.3 L1646.9,1054.1 L1650.2,1063.5 L1653.4,1072.7 L1656.7,1081.6 L1660.0,1090.2 L1663.3,1098.6 L1666.5,1106.6 L1669.8,1114.4 L1673.1,1121.9 L1676.3,1129.2 L1679.6,1136.1 L1682.9,1142.8 L1686.2,1149.3 L1689.4,1155.4 L1692.7,1161.4 L1696.0,1167.1 L1699.3,1172.5 L1702.5,1177.7 L1705.8,1182.7 L1709.1,1187.4 L1712.4,1191.9 L1715.6,1196.3 L1718.9,1200.4 L1722.2,1204.3 L1725.4,1208.0 L1728.7,1211.5 L1732.0,1214.9 L1735.3,1218.0 L1738.5,1221.1 L1741.8,1223.9 L1745.1,1226.6 L1748.4,1229.1 L1751.6,1231.5 L1754.9,1233.8 L1758.2,1235.9 L1761.4,1237.9 L1764.7,1239.8 L1768.0,1241.6 L1771.3,1243.3 L1774.5,1244.8 L1777.8,1246.3 L1781.1,1247.7 L1784.4,1249.0 L1787.6,1250.2 L1790.9,1251.3 L1794.2,1252.3 L1797.5,1253.3 L1800.7,1254.2 L1804.0,1255.1"/>
</g>
<rect x="1797" y="180" width="640" height="526" fill="#000"/>
<rect x="1777" y="160" width="639" height="525.5" fill="#fff" stroke="#858585" stroke-width="4"/>
<path d="M1783.6,206.4 H1837.5 M1862,206.4 H1916.5" stroke="#8a8a8a" stroke-width="3.2" fill="none"/>
<rect x="1840.8" y="197.4" width="18" height="18" fill="#000"/>
<path d="M1783.6,286.4 H1918.6" stroke="#f00" stroke-width="5" fill="none"/>
<path d="M1783.6,377.2 H1918.6" stroke="#0f0" stroke-width="5" fill="none"/>
<path d="M1783.6,467.4 H1918.6" stroke="#00f" stroke-width="5" fill="none"/>
<path d="M1783.6,560.1 H1918.6" stroke="#0ff" stroke-width="5" fill="none"/>
<path d="M1783.6,644.6 H1918.6" stroke="#f0f" stroke-width="5" fill="none"/>
<text transform="translate(1928.2,225.5) scale(1.28,1)" style="font-size:58.5px">λ</text>
<text transform="translate(1927.6,305.5) scale(1.22,1)" style="font-size:58.5px">α</text>
<text class="lg" x="1981.9" y="310.0" text-anchor="middle">+</text>
<text transform="translate(1997.7,305.5) scale(1.22,1)" style="font-size:58.5px">α</text>
<text transform="translate(2035.5,321.5) scale(1,1)" style="font-size:41px">1</text>
<text transform="translate(1927.6,396.6) scale(1.22,1)" style="font-size:58.5px">α</text>
<text transform="translate(1965,411.4) scale(1,1)" style="font-size:41px">2</text>
<text transform="translate(1927.6,486.8) scale(1.22,1)" style="font-size:58.5px">α</text>
<text transform="translate(1965.6,504.9) scale(1,1)" style="font-size:41px">3</text>
<text transform="translate(1928.4,579.5) scale(1.16,1)" style="font-size:58.5px">β</text>
<text transform="translate(1961.7,594.7) scale(1.05,1)" style="font-size:43px">κ</text>
<text x="1928.6" y="664.8" style="font-size:58px">Cumulative Fit Peak</text>
</svg></body></html>
